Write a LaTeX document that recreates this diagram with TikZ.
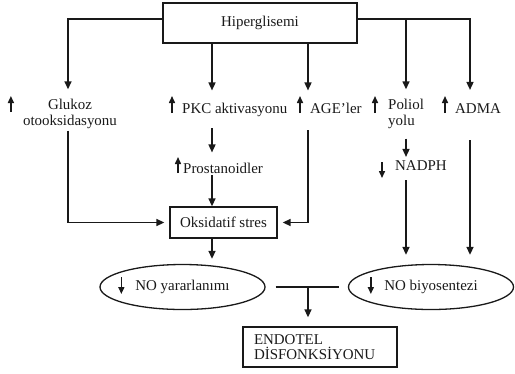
\documentclass[tikz,border=0pt]{standalone}
\usepackage{fontspec}
\setmainfont{Liberation Serif}
\usetikzlibrary{arrows.meta,shapes.geometric,calc}

\begin{document}
\begin{tikzpicture}[x=1bp,y=-1bp,
  every node/.style={font=\fontsize{15}{15.5}\selectfont,text=black!90},
  box/.style={draw=black!90,line width=1.3bp,inner sep=0pt},
  oval/.style={ellipse,draw=black!90,line width=1.3bp,inner sep=0pt},
  lbl/.style={inner sep=0pt},
  arr/.style={-{Triangle[length=8bp,width=7bp]},line width=1.5bp,black!90},
  ln/.style={line width=1.5bp,black!90},
  ind/.style={-{Triangle[length=7bp,width=6bp]},line width=1.5bp,black!90}
]
\useasboundingbox (0,0) rectangle (515,373);

% columns
\coordinate (cA) at (68,0);
\coordinate (cB) at (212,0);
\coordinate (cC) at (308,0);
\coordinate (cD) at (406,0);
\coordinate (cE) at (470,0);

\node[box,minimum width=194bp,minimum height=40bp] (hyp) at (260,23) {Hiperglisemi};
\node[lbl,align=center] (glu) at (70,114) {Glukoz\\otooksidasyonu};
\node[lbl,anchor=base west] (pkc) at (182,113) {PKC aktivasyonu};
\node[lbl,anchor=base west] (age) at (310,113) {AGE’ler};
\node[lbl,align=left,anchor=west] (pol) at (388,114) {Poliol\\yolu};
\node[lbl,anchor=base west] (adma) at (455,113) {ADMA};
\node[lbl,anchor=base west] (pros) at (183,173) {Prostanoidler};
\node[lbl,anchor=base west] (nadph) at (395,170) {NADPH};
\node[box,minimum width=107bp,minimum height=31bp] (oks) at (223.5,222.5) {Oksidatif stres};
\node[oval,minimum width=165bp,minimum height=45bp] (noy) at (182.5,287) {NO yararlanımı};
\node[oval,minimum width=165bp,minimum height=45bp] (nob) at (431,287) {NO biyosentezi};
\node[box,minimum width=154bp,minimum height=40bp,text width=132bp,align=left] (endo) at (320,347) {ENDOTEL\\DİSFONKSİYONU};

% from Hiperglisemi
\coordinate (hl) at ([yshift=4bp]hyp.west);
\coordinate (hr) at ([yshift=4bp]hyp.east);
\draw[arr,shorten >=10bp] (hl) -| (glu.north -| cA);
\draw[arr,shorten >=12bp] (hyp.south -| cB) -- (pkc.north -| cB);
\draw[arr,shorten >=12bp] (hyp.south -| cC) -- (age.north -| cC);
\draw[arr,shorten >=13bp] (hr) -| (adma.north -| cE);
\draw[arr,shorten >=10bp] (hr -| cD) -- (pol.north -| cD);

% up / down marks
\draw[ind] ($(glu.west)+(-12,-2)$) -- ++(0,-16);
\draw[ind] ($(pkc.base west)+(-10,0)$) -- ++(0,-17);
\draw[ind] ($(age.base west)+(-10,0)$) -- ++(0,-17);
\draw[ind] ($(pol.west)+(-13,-1)$) -- ++(0,-17);
\draw[ind] ($(adma.base west)+(-10,0)$) -- ++(0,-17);
\draw[ind] ($(pros.base west)+(-5,0)$) -- ++(0,-16);
\draw[ind] ($(nadph.base west)+(-13,-8)$) -- ++(0,16);
\draw[ind] ($(noy.west)+(22,-10)$) -- ++(0,17);
\draw[ind] ($(nob.west)+(23,-10)$) -- ++(0,17);

% middle part
\draw[arr,shorten <=2bp,shorten >=5bp] (glu.south -| cA) |- (oks.west);
\draw[arr,shorten <=12bp,shorten >=10bp] (pkc.south -| cB) -- (pros.north -| cB);
\draw[arr,shorten <=2bp] (pros.south -| cB) -- (oks.north -| cB);
\draw[arr,shorten <=17bp,shorten >=5bp] (age.south -| cC) |- (oks.east);
\draw[arr,shorten <=10bp,shorten >=3bp] (pol.south -| cD) -- (nadph.north -| cD);
\draw[arr,shorten <=10bp,shorten >=9bp] (nadph.south -| cD) -- (nob.north -| cD);
\draw[arr,shorten <=27bp,shorten >=9bp] (adma.south -| cE) -- (nob.north -| cE);

% bottom
\draw[arr,shorten >=5bp] (oks.south -| cB) -- (noy.north -| cB);
\draw[ln,shorten <=10bp,shorten >=9bp] (noy.east) -- (nob.west);
\draw[arr,shorten >=9bp] (noy.east -| cC) -- (endo.north -| cC);
\end{tikzpicture}
\end{document}
